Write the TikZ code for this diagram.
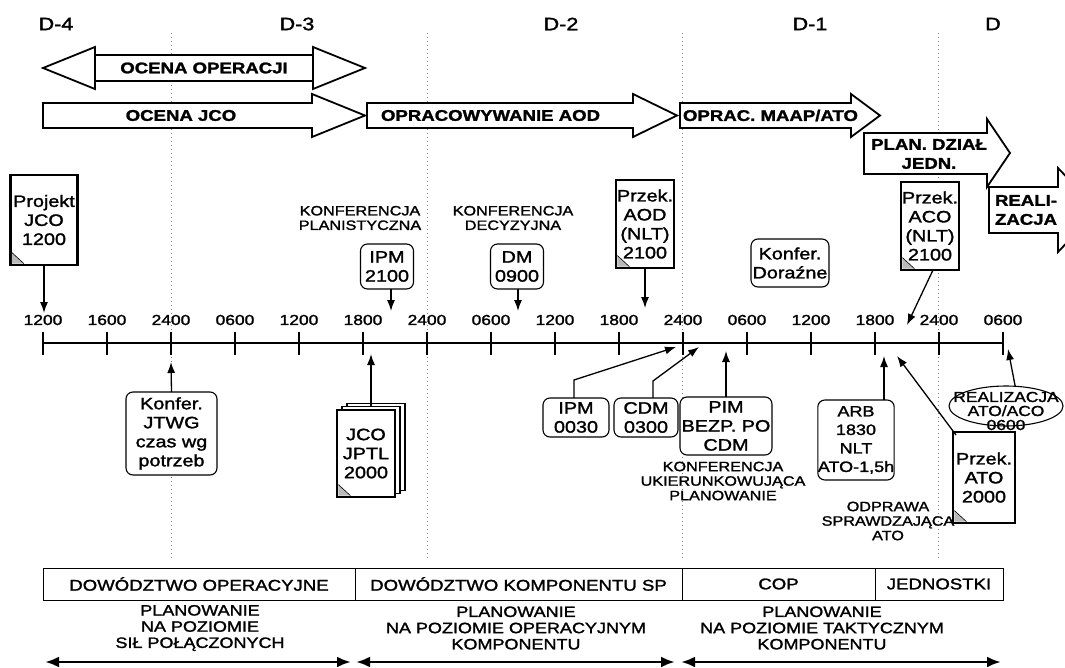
\documentclass[tikz,border=0pt]{standalone}
\usepackage{fontspec}
\setmainfont{Liberation Sans}[FakeStretch=1.2, FakeBold=1.6]
\usetikzlibrary{arrows.meta,shapes.geometric,calc}
\newcommand\docfold[1]{%
  \fill[gray!55] ($(#1.south west)+(1.4,-1.4)$) -- ++(0,-11) -- ++(12,11) -- cycle;
  \draw[line width=0.6pt] ($(#1.south west)+(1.4,-12.4)$) -- ($(#1.south west)+(13.4,-1.4)$);}
\begin{document}
\begin{tikzpicture}[x=1pt,y=-1pt,
  every node/.style={inner sep=0pt, outer sep=0pt},
  blk/.style={draw=black, line width=1.8pt, fill=white, line join=miter},
  doc/.style={draw=black, line width=2.2pt, fill=white, minimum width=58pt, minimum height=88pt, align=center, font=\fontsize{16.5}{19}\selectfont},
  docback/.style={doc, line width=1.2pt},
  rbox/.style={draw=black, line width=1.1pt, rounded corners=7pt, fill=white, align=center, font=\fontsize{16.5}{19}\selectfont},
  ticklab/.style={font=\fontsize{14.5}{15}\selectfont},
  tickline/.style={line width=1.2pt},
  day/.style={font=\fontsize{18}{18}\selectfont},
  lab/.style={font=\fontsize{13.5}{14.5}\selectfont, align=center},
  arrtext/.style={font=\bfseries\fontsize{15.5}{19}\selectfont},
  conn/.style={line width=1.3pt, -{Latex[length=11pt,width=8pt]}},
  dots/.style={gray, line width=0.9pt, dash pattern=on 1pt off 3pt},
  orgbox/.style={draw=black, line width=1pt, minimum height=32pt, font=\fontsize{15.5}{16}\selectfont},
  plan/.style={align=center, font=\fontsize{15}{16.2}\selectfont},
  span/.style={line width=2.8pt, {Latex[length=14pt,width=11pt]}-{Latex[length=14pt,width=11pt]}},
]
\clip (0,0) rectangle (1065,668);
\fill[white] (0,0) rectangle (1065,668);

% day labels
\node[day] (d4) at (56,24) {D-4};
\node[day] (d3) at (297,24) {D-3};
\node[day] (d2) at (561,24) {D-2};
\node[day] (d1) at (810,24) {D-1};
\node[day] (d0) at (993,24) {D};

% dotted day separators
\foreach \x in {171,427,682,938} \draw[dots] (\x,33) -- (\x,560);

% top block arrows
\draw[blk] (43,68) -- (95,47) -- (95,55) -- (313,55) -- (313,47) -- (365,68) -- (313,89) -- (313,81) -- (95,81) -- (95,89) -- cycle;
\draw[blk] (95,55) -- (95,81) (313,55) -- (313,81);
\node[arrtext] (oop) at (204,68) {OCENA OPERACJI};

\draw[blk] (43,103) -- (312,103) -- (312,94) -- (365,115.5) -- (312,137) -- (312,128) -- (43,128) -- cycle;
\node[arrtext] (ojco) at (181,115.5) {OCENA JCO};

\draw[blk] (367,103) -- (633,103) -- (633,94) -- (677,115.5) -- (633,137) -- (633,128) -- (367,128) -- cycle;
\node[arrtext, anchor=west] (oaod) at (381,115.5) {OPRACOWYWANIE AOD};

\draw[blk] (680,103) -- (851,103) -- (851,94) -- (880,115.5) -- (851,137) -- (851,128) -- (680,128) -- cycle;
\node[arrtext, anchor=west] (omaap) at (683,115.5) {OPRAC. MAAP/ATO};

\draw[blk] (864,133) -- (987,133) -- (987,119) -- (1010,153) -- (987,187) -- (987,174) -- (864,174) -- cycle;
\node[arrtext, align=center] (pdj) at (929,154) {PLAN. DZIAŁ\\JEDN.};

\draw[blk] (989,187) -- (1058,187) -- (1058,168) -- (1098,210) -- (1058,252) -- (1058,233) -- (989,233) -- cycle;
\node[arrtext, align=left, anchor=west] (real2) at (995,210) {REALI-\\ZACJA};

% timeline
\draw[line width=1.6pt] (43,343) -- (1003,343);
\foreach \t [count=\i from 0] in {1200,1600,2400,0600,1200,1800,2400,0600,1200,1800,2400,0600,1200,1800,2400,0600} {
  \pgfmathsetmacro\xx{43+64*\i}
  \draw[tickline] (\xx,332) -- (\xx,355);
  \node[ticklab] (lab\i) at (\xx,320) {\t};
}

% arrow end points
\coordinate (eproj) at (44,313);
\coordinate (eipm) at (391,311);
\coordinate (edm) at (518,311);
\coordinate (eaod) at (645,308);
\coordinate (eaco) at (907,325);
\coordinate (ejtwg) at (171,362);
\coordinate (ejco) at (371,354);
\coordinate (bipm) at (574,380);
\coordinate (eipmb) at (676,347);
\coordinate (bcdm) at (653,381);
\coordinate (ecdm) at (699,347);
\coordinate (epim) at (726,351);
\coordinate (earb) at (884,356);
\coordinate (eato) at (897,356);
\coordinate (ereal) at (1008,349);

% upper nodes
\node[doc, minimum width=67pt, minimum height=90pt] (proj) at (44,220) {Projekt\\JCO\\1200};
\docfold{proj}
\draw[conn] (proj.south) -- (eproj);

\node[lab] (kplan) at (360,218) {KONFERENCJA\\PLANISTYCZNA};
\node[rbox, minimum width=53pt, minimum height=45pt] (ipm) at (387,266.5) {IPM\\2100};
\draw[conn] (ipm.south -| eipm) -- (eipm);

\node[lab] (kdec) at (513,218) {KONFERENCJA\\DECYZYJNA};
\node[rbox, minimum width=53pt, minimum height=45pt] (dm) at (517,266.5) {DM\\0900};
\draw[conn] (dm.south -| edm) -- (edm);

\node[doc, minimum width=58pt, minimum height=88pt] (aod) at (645,224) {Przek.\\AOD\\(NLT)\\2100};
\docfold{aod}
\draw[conn] (aod.south) -- (eaod);

\node[rbox, minimum width=78pt, minimum height=48pt] (dor) at (790,263) {Konfer.\\Doraźne};

\node[doc, minimum width=58pt, minimum height=88pt] (aco) at (930,226) {Przek.\\ACO\\(NLT)\\2100};
\docfold{aco}
\draw[conn] ($(aco.south)+(3,0)$) -- (eaco);

% lower nodes
\node[rbox, minimum width=91pt, minimum height=83pt] (jtwg) at (171.5,433.5) {Konfer.\\JTWG\\czas wg\\potrzeb};
\draw[conn] (jtwg.north) -- (ejtwg);

\node[docback, minimum width=58pt, minimum height=87pt] (jcoC) at (376,447) {};
\node[docback, minimum width=58pt, minimum height=87pt] (jcoB) at (371,450) {};
\node[doc, minimum width=58pt, minimum height=87pt] (jcoA) at (366,453.5) {JCO\\JPTL\\2000};
\docfold{jcoA}
\draw[conn] (jcoB.north) -- (ejco);

\node[rbox, minimum width=66pt, minimum height=39pt] (ipmb) at (576,417.5) {IPM\\0030};
\draw[conn] (ipmb.north -| bipm) -- (bipm) -- (eipmb);

\node[rbox, minimum width=64pt, minimum height=39pt] (cdm) at (646,417.5) {CDM\\0300};
\draw[conn] (cdm.north -| bcdm) -- (bcdm) -- (ecdm);

\node[rbox, minimum width=92pt, minimum height=58pt] (pim) at (726,426) {PIM\\BEZP. PO\\CDM};
\draw[conn] (pim.north) -- (epim);

\node[lab] (kuk) at (723,481) {KONFERENCJA\\UKIERUNKOWUJĄCA\\PLANOWANIE};

\node[rbox, minimum width=72pt, minimum height=80pt, font=\fontsize{15}{18.5}\selectfont] (arb) at (856,440) {ARB\\1830\\NLT\\ATO-1,5h};
\draw[conn] (arb.north -| earb) -- (earb);

\node[lab] (odp) at (888,521) {ODPRAWA\\SPRAWDZAJĄCA\\ATO};

\node[doc, minimum width=62pt, minimum height=91pt] (ato) at (984,477.5) {Przek.\\ATO\\2000};
\docfold{ato}
\draw[conn] ($(ato.north west)+(3,3)$) -- (eato);

\node[draw=black, line width=1.1pt, ellipse, fill=white, minimum width=114pt, minimum height=40pt] (real) at (1006,406) {};
\node[lab, font=\fontsize{14.5}{14}\selectfont] (realt) at (1006,411) {REALIZACJA\\ATO/ACO\\0600};
\draw[conn] (real.65) -- (ereal);

% organisation boxes
\node[orgbox, minimum width=312pt] (dowop) at (199,584) {DOWÓDZTWO OPERACYJNE};
\node[orgbox, minimum width=327pt] (dowsp) at (518.5,584) {DOWÓDZTWO KOMPONENTU SP};
\node[orgbox, minimum width=193pt] (cop) at (778.5,584) {COP};
\node[orgbox, minimum width=128pt] (jedn) at (939,584) {JEDNOSTKI};

\node[plan] (p1) at (200,628) {PLANOWANIE\\NA POZIOMIE\\SIŁ POŁĄCZONYCH};
\node[plan] (p2) at (516,628) {PLANOWANIE\\NA POZIOMIE OPERACYJNYM\\KOMPONENTU};
\node[plan] (p3) at (822,628) {PLANOWANIE\\NA POZIOMIE TAKTYCZNYM\\KOMPONENTU};

\coordinate (s1a) at (45,662);
\coordinate (s1b) at (351,662);
\coordinate (s2a) at (356,662);
\coordinate (s2b) at (675,662);
\coordinate (s3a) at (681,662);
\coordinate (s3b) at (1001,662);
\draw[span] (s1a) -- (s1b);
\draw[span] (s2a) -- (s2b);
\draw[span] (s3a) -- (s3b);
\end{tikzpicture}
\end{document}
